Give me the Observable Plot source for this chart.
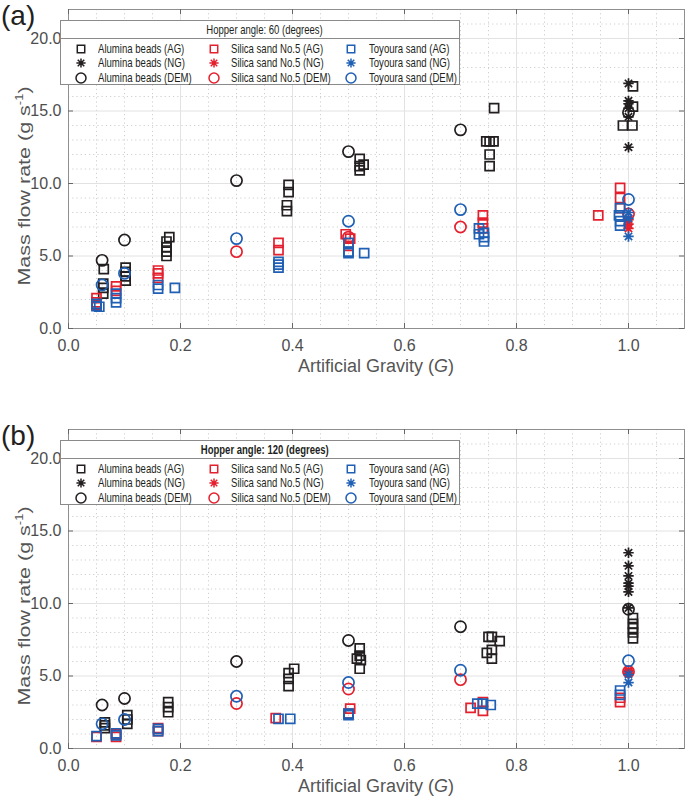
<!DOCTYPE html>
<html><head><meta charset="utf-8">
<script src="https://cdn.jsdelivr.net/npm/d3@7"></script>
<script src="https://cdn.jsdelivr.net/npm/@observablehq/plot@0.6"></script>
<style>
body{margin:0;background:#fff;font-family:"Liberation Sans",Arial,sans-serif;}
#wrap{position:relative;width:685px;height:798px;overflow:hidden;background:#fff;}
.panel{position:absolute;left:0;}
.plab{position:absolute;left:1px;font-size:28px;color:#231f20;line-height:32px;}
.xt{position:absolute;left:68px;width:616px;text-align:center;font-size:18px;color:#555;line-height:22px;}
.yt{position:absolute;width:300px;height:26px;line-height:26px;text-align:center;font-size:21.5px;color:#555;white-space:nowrap;transform:rotate(-90deg) scaleY(0.8);}
.yt sup{font-size:13px;}
.leg{position:absolute;left:60px;width:400px;height:65px;border:1px solid #8a8a8a;background:#fff;box-sizing:border-box;font-family:"Liberation Sans",Arial,sans-serif;font-size:13.5px;color:#231f20;}
.leg .hd{position:absolute;left:5px;top:1px;width:100%;text-align:center;line-height:16px;}
.leg .hd span{display:inline-block;transform:scaleX(0.705);transform-origin:50% 50%;white-space:nowrap;}
.leg .sep{position:absolute;left:0;top:17px;width:100%;border-top:1px solid #8a8a8a;}
.leg .it{position:absolute;line-height:14px;white-space:nowrap;transform:scaleX(0.71);transform-origin:0 50%;}
.leg svg{position:absolute;}
</style>
</head><body>
<div id="wrap"></div>
<script>
// ---------- data ----------
const materials = ["Alumina beads", "Silica sand No.5", "Toyoura sand"];
const methods = ["AG", "NG", "DEM"];
const materialColors = ["#231f20", "#e5202e", "#1f5fb4"];
const xMajor = [0, 0.2, 0.4, 0.6, 0.8, 1.0];
const yMajor = [0, 5, 10, 15, 20];
const panelTitles = ["Hopper angle: 60 (degrees)", "Hopper angle: 120 (degrees)"];
const panelLetters = ["(a)", "(b)"];

// Panel (a): hopper angle 60
const a_alumina_AG = [[0.063,4.1],[0.062,3.1],[0.062,2.8],[0.062,2.4],
  [0.102,4.2],[0.102,3.9],[0.102,3.6],[0.102,3.3],
  [0.18,6.3],[0.175,6.0],[0.175,5.6],[0.175,5.3],[0.175,5.0],
  [0.393,9.9],[0.393,9.4],[0.39,8.5],[0.39,8.1],
  [0.52,11.7],[0.527,11.3],[0.52,11.2],[0.52,10.9],
  [0.76,15.2],[0.746,12.9],[0.752,12.9],[0.759,12.9],[0.752,12.0],[0.752,11.2],
  [1.008,16.7],[1.008,15.3],[0.99,14.0],[1.007,14.0]];
const a_alumina_NG = [[1.0,16.9],[1.0,15.7],[1.0,15.5],[1.0,15.2],[1.0,14.6],[1.0,12.5]];
const a_alumina_DEM = [[0.06,4.7],[0.1,6.1],[0.3,10.2],[0.5,12.2],[0.7,13.7],[1.0,14.9]];
const a_silica_AG = [[0.05,2.1],[0.05,1.8],[0.05,1.6],[0.085,2.9],[0.085,2.6],
  [0.16,4.0],[0.16,3.8],[0.16,3.5],[0.375,5.9],[0.375,5.4],
  [0.495,6.5],[0.503,6.2],[0.5,5.7],[0.74,7.8],[0.74,7.3],[0.74,6.9],
  [0.985,9.7],[0.985,9.0],[0.985,8.3],[0.946,7.8]];
const a_silica_NG = [[1.0,7.5],[1.0,7.2],[1.0,6.9]];
const a_silica_DEM = [[0.3,5.3],[0.5,6.3],[0.7,7.0],[1.0,7.9]];
const a_toyoura_AG = [[0.05,1.7],[0.05,1.55],[0.055,1.5],[0.085,2.4],[0.085,2.1],[0.085,1.8],
  [0.16,3.0],[0.16,2.75],[0.19,2.8],[0.375,4.6],[0.375,4.4],[0.375,4.2],
  [0.5,5.9],[0.5,5.3],[0.5,5.2],[0.528,5.2],
  [0.733,6.9],[0.733,6.5],[0.742,6.6],[0.742,6.3],[0.742,6.0],
  [0.985,8.3],[0.983,7.8],[0.985,7.4],[0.985,7.1]];
const a_toyoura_NG = [[1.0,8.0],[1.0,7.6],[1.0,6.35]];
const a_toyoura_DEM = [[0.06,3.0],[0.1,3.8],[0.3,6.2],[0.5,7.4],[0.7,8.2],[1.0,8.9]];

// Panel (b): hopper angle 120
const b_alumina_AG = [[0.065,1.8],[0.065,1.6],[0.065,1.4],[0.105,2.3],[0.105,2.0],[0.105,1.7],
  [0.178,3.2],[0.178,2.85],[0.178,2.5],[0.403,5.5],[0.393,5.2],[0.393,4.8],[0.393,4.3],
  [0.52,6.9],[0.52,6.4],[0.515,6.2],[0.522,6.1],[0.52,5.5],
  [0.75,7.7],[0.756,7.7],[0.77,7.4],[0.756,6.8],[0.747,6.6],[0.756,6.2],
  [1.008,9.0],[1.008,8.6],[1.008,8.3],[1.008,8.0],[1.008,7.6]];
const b_alumina_NG = [[1.0,13.5],[1.0,12.6],[1.0,11.9],[1.0,11.4],[1.0,11.2],[1.0,10.8],[1.0,9.7]];
const b_alumina_DEM = [[0.06,3.0],[0.1,3.45],[0.3,6.0],[0.5,7.45],[0.7,8.4],[1.0,9.6]];
const b_silica_AG = [[0.05,0.8],[0.085,1.0],[0.085,0.8],[0.16,1.4],[0.16,1.2],[0.37,2.1],
  [0.503,2.75],[0.5,2.4],[0.718,2.8],[0.74,3.2],[0.74,2.6],[0.985,3.5],[0.985,3.2]];
const b_silica_NG = [[1.0,5.4],[1.0,5.3],[1.0,5.2]];
const b_silica_DEM = [[0.3,3.1],[0.5,4.1],[0.7,4.75],[1.0,5.3]];
const b_toyoura_AG = [[0.05,0.85],[0.085,1.05],[0.085,0.9],[0.16,1.35],[0.16,1.2],
  [0.375,2.05],[0.396,2.05],[0.5,2.4],[0.5,2.3],[0.73,3.1],[0.74,3.1],[0.754,3.0],
  [0.985,4.0],[0.985,3.7]];
const b_toyoura_NG = [[1.0,5.1],[1.0,4.55]];
const b_toyoura_DEM = [[0.06,1.7],[0.1,2.0],[0.3,3.6],[0.5,4.55],[0.7,5.4],[1.0,6.05]];

const panelData = [
  [[a_alumina_AG, a_alumina_NG, a_alumina_DEM],
   [a_silica_AG, a_silica_NG, a_silica_DEM],
   [a_toyoura_AG, a_toyoura_NG, a_toyoura_DEM]],
  [[b_alumina_AG, b_alumina_NG, b_alumina_DEM],
   [b_silica_AG, b_silica_NG, b_silica_DEM],
   [b_toyoura_AG, b_toyoura_NG, b_toyoura_DEM]]
];

// ---------- symbols ----------
const asterisk = {
  draw(ctx, size) {
    const r = Math.sqrt(size / Math.PI);
    const d = r * Math.SQRT1_2;
    ctx.moveTo(0, -r); ctx.lineTo(0, r);
    ctx.moveTo(-r, 0); ctx.lineTo(r, 0);
    ctx.moveTo(-d, -d); ctx.lineTo(d, d);
    ctx.moveTo(-d, d); ctx.lineTo(d, -d);
  }
};
const methodSymbols = [d3.symbolSquare, asterisk, d3.symbolCircle];
const methodR = [5.1, 5.2, 5.6];

const xMinor = d3.range(1, 23).map(i => i * 0.05).filter(v => Math.abs(v / 0.2 - Math.round(v / 0.2)) > 1e-6);
const yMinor = d3.range(1, 23).filter(v => v % 5 !== 0);

const W = 685, H = 390, mt = 9, mb = 62, ml = 68, mr = 1;
const innerH = H - mt - mb, innerW = W - ml - mr;
const tickLen = 5;
const wrap = document.getElementById("wrap");

panelData.forEach((series, p) => {
  const top = p * 420;
  const dots = [];
  series.forEach((matSeries, mi) => {
    matSeries.forEach((pts, k) => {
      dots.push(Plot.dot(pts, {
        x: d => d[0], y: d => d[1],
        symbol: methodSymbols[k], r: methodR[k],
        stroke: materialColors[mi], strokeWidth: 1.7, fill: "none"
      }));
    });
  });
  const chart = Plot.plot({
    width: W, height: H,
    marginTop: mt, marginBottom: mb, marginLeft: ml, marginRight: mr,
    style: {fontFamily: "'Liberation Sans', Arial, sans-serif", fontSize: "16px", background: "transparent"},
    x: {domain: [0, 1.1]},
    y: {domain: [0, 22]},
    marks: [
      Plot.ruleX(xMinor, {stroke: "#cfcfcf", strokeDasharray: "1.2,3"}),
      Plot.ruleY(yMinor, {stroke: "#cfcfcf", strokeDasharray: "1.2,3"}),
      Plot.ruleX(xMajor.slice(1), {stroke: "#e2e2e2"}),
      Plot.ruleY(yMajor.slice(1), {stroke: "#e2e2e2"}),
      Plot.frame({stroke: "#8f8f8f"}),
      Plot.tickX(xMajor, {x: d => d, insetTop: innerH - tickLen, stroke: "#666"}),
      Plot.tickX(xMajor, {x: d => d, insetBottom: innerH - tickLen, stroke: "#666"}),
      Plot.tickY(yMajor, {y: d => d, insetRight: innerW - tickLen, stroke: "#666"}),
      Plot.tickY(yMajor, {y: d => d, insetLeft: innerW - tickLen, stroke: "#666"}),
      Plot.axisX({ticks: xMajor, tickSize: 0, tickPadding: 11, tickFormat: d => d.toFixed(1), label: null, fontSize: 16, fill: "#4d4d4d"}),
      Plot.axisY({ticks: yMajor, tickSize: 0, tickPadding: 7, tickFormat: d => d.toFixed(1), label: null, fontSize: 16, fill: "#4d4d4d"}),
      ...dots
    ]
  });
  chart.classList.add("panel");
  chart.style.top = top + "px";
  wrap.appendChild(chart);

  // panel letter
  const lab = document.createElement("div");
  lab.className = "plab"; lab.textContent = panelLetters[p];
  lab.style.top = (top + 0) + "px";
  wrap.appendChild(lab);

  // axis titles
  const xt = document.createElement("div");
  xt.className = "xt"; xt.innerHTML = "Artificial Gravity (<i>G</i>)";
  xt.style.top = (top + 355) + "px";
  wrap.appendChild(xt);
  const yt = document.createElement("div");
  yt.className = "yt"; yt.innerHTML = "Mass flow rate (g s<sup>-1</sup>)";
  yt.style.left = (20 - 150) + "px";
  yt.style.top = (top + 186 - 13) + "px";
  wrap.appendChild(yt);

  // legend
  const leg = document.createElement("div");
  leg.className = "leg";
  leg.style.top = (top + 20) + "px";
  const hd = document.createElement("div");
  hd.className = "hd";
  const hs = document.createElement("span"); hs.textContent = panelTitles[p];
  hd.appendChild(hs);
  if (p === 1) hd.style.fontWeight = "bold";
  leg.appendChild(hd);
  const sep = document.createElement("div"); sep.className = "sep"; leg.appendChild(sep);
  const colX = [20, 153, 290], textX = [37, 170, 308], rowY = [28, 42, 57];
  materials.forEach((m, mi) => {
    methods.forEach((meth, k) => {
      const s = d3.create("svg").attr("width", 14).attr("height", 14)
        .style("left", (colX[mi] - 7) + "px").style("top", (rowY[k] - 7) + "px");
      const rr = k === 0 ? 4.2 : k === 1 ? 4.6 : 5;
      s.append("path").attr("transform", "translate(7,7)")
        .attr("d", d3.symbol(methodSymbols[k], rr * rr * Math.PI)())
        .attr("fill", "none").attr("stroke", materialColors[mi]).attr("stroke-width", 1.5);
      leg.appendChild(s.node());
      const t = document.createElement("div");
      t.className = "it"; t.textContent = m + " (" + meth + ")";
      t.style.left = textX[mi] + "px"; t.style.top = (rowY[k] - 7) + "px";
      leg.appendChild(t);
    });
  });
  wrap.appendChild(leg);
});
</script>
</body></html>
